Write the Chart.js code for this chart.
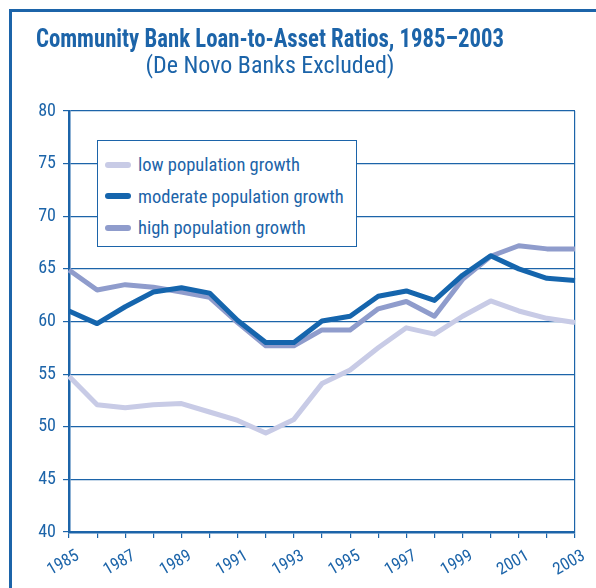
<!DOCTYPE html>
<html>
<head>
<meta charset="utf-8">
<script src="https://cdn.jsdelivr.net/npm/chart.js@4"></script>
<style>
  body{ margin:0; background:#fff; }
  #wrap{ position:relative; width:596px; height:588px; overflow:hidden; font-family:"Liberation Sans Narrow","Roboto Condensed","Liberation Sans",sans-serif; color:#1c64a9; }
  #frame{ position:absolute; left:9px; top:9px; width:640px; height:640px; border-left:3px solid #1c64a9; border-top:3px solid #1c64a9; }
  #title{ position:absolute; left:10px; width:520px; top:25px; text-align:center; font-weight:bold; font-size:25px; line-height:28px; white-space:nowrap; transform:scaleX(0.91); transform-origin:center; }
  #subtitle{ position:absolute; left:10px; width:520px; top:51px; text-align:center; font-size:24px; line-height:28px; }
  #chart{ position:absolute; left:0; top:0; }
  #legend{ position:absolute; left:97px; top:140px; width:258px; height:105px; background:#fff; border:1.5px solid #1c64a9; }
  .row{ position:absolute; left:7px; height:20px; font-size:18.5px; line-height:20px; white-space:nowrap; }
  .sw{ display:inline-block; width:26px; height:6px; border-radius:3px; vertical-align:middle; margin-right:7px; margin-top:-3px; }
</style>
</head>
<body>
<div id="wrap">
  <div id="frame"></div>
  <canvas id="chart" width="596" height="588"></canvas>
  <div id="title">Community Bank Loan-to-Asset Ratios, 1985–2003</div>
  <div id="subtitle">(De Novo Banks Excluded)</div>
  <div id="legend"></div>
</div>
<script>
// data
const years = ["1985","1986","1987","1988","1989","1990","1991","1992","1993","1994",
               "1995","1996","1997","1998","1999","2000","2001","2002","2003"];
const lowGrowth =      [54.8, 52.1, 51.8, 52.1, 52.2, 51.4, 50.6, 49.4, 50.7, 54.1,
                        55.4, 57.5, 59.4, 58.8, 60.5, 61.95, 61.0, 60.3, 59.9];
const moderateGrowth = [61.0, 59.8, 61.4, 62.8, 63.2, 62.7, 60.1, 58.0, 58.0, 60.05,
                        60.5, 62.4, 62.9, 62.0, 64.4, 66.25, 65.0, 64.1, 63.9];
const highGrowth =     [64.9, 63.0, 63.5, 63.25, 62.8, 62.3, 59.9, 57.7, 57.7, 59.2,
                        59.2, 61.2, 61.9, 60.5, 64.0, 66.2, 67.2, 66.9, 66.9];
const seriesNames = ["low population growth", "moderate population growth", "high population growth"];
const seriesColors = ["#c8cbe6", "#1565ad", "#8f9ccc"];

const blue = "#1c64a9";
const fontFam = '"Liberation Sans Narrow","Roboto Condensed","Liberation Sans",sans-serif';

// html legend
const $ = (id) => document.getElementById(id);
seriesNames.forEach((name, i) => {
  const row = document.createElement("div");
  row.className = "row";
  row.style.top = (14 + i * 31.5) + "px";
  row.innerHTML = `<span class="sw" style="background:${seriesColors[i]}"></span>${name}`;
  $("legend").appendChild(row);
});

const mkSet = (i, data, order) => ({
  label: seriesNames[i], data, borderColor: seriesColors[i], backgroundColor: seriesColors[i],
  borderWidth: 5, pointRadius: 0, tension: 0, fill: false, order,
  borderJoinStyle: "round", borderCapStyle: "butt"
});

new Chart($("chart").getContext("2d"), {
  type: "line",
  data: {
    labels: years,
    datasets: [ mkSet(1, moderateGrowth, 0), mkSet(2, highGrowth, 1), mkSet(0, lowGrowth, 2) ]
  },
  options: {
    responsive: false,
    animation: false,
    layout: { padding: { top: 111, right: 21, left: 0, bottom: 0 } },
    plugins: { legend: { display: false }, tooltip: { enabled: false } },
    scales: {
      x: {
        offset: false,
        border: { color: blue, width: 2.5 },
        grid: {
          color: (c) => c.index === years.length - 1 ? blue : "transparent",
          lineWidth: 1.2, tickColor: blue, tickLength: 6, drawOnChartArea: true
        },
        ticks: {
          autoSkip: false, maxRotation: 30, minRotation: 30, padding: 8, labelOffset: 9,
          color: blue, font: { family: fontFam, size: 17 },
          callback: (v, i) => i % 2 === 0 ? years[i] : ""
        },
        afterFit: (s) => { s.height = 56; }
      },
      y: {
        min: 40, max: 80,
        border: { color: blue, width: 2.5 },
        grid: { color: blue, lineWidth: 1.2, tickLength: 6 },
        ticks: { stepSize: 5, padding: 7, color: blue, font: { family: fontFam, size: 18 } },
        afterFit: (s) => { s.width = 69; }
      }
    }
  }
});
</script>
</body>
</html>
